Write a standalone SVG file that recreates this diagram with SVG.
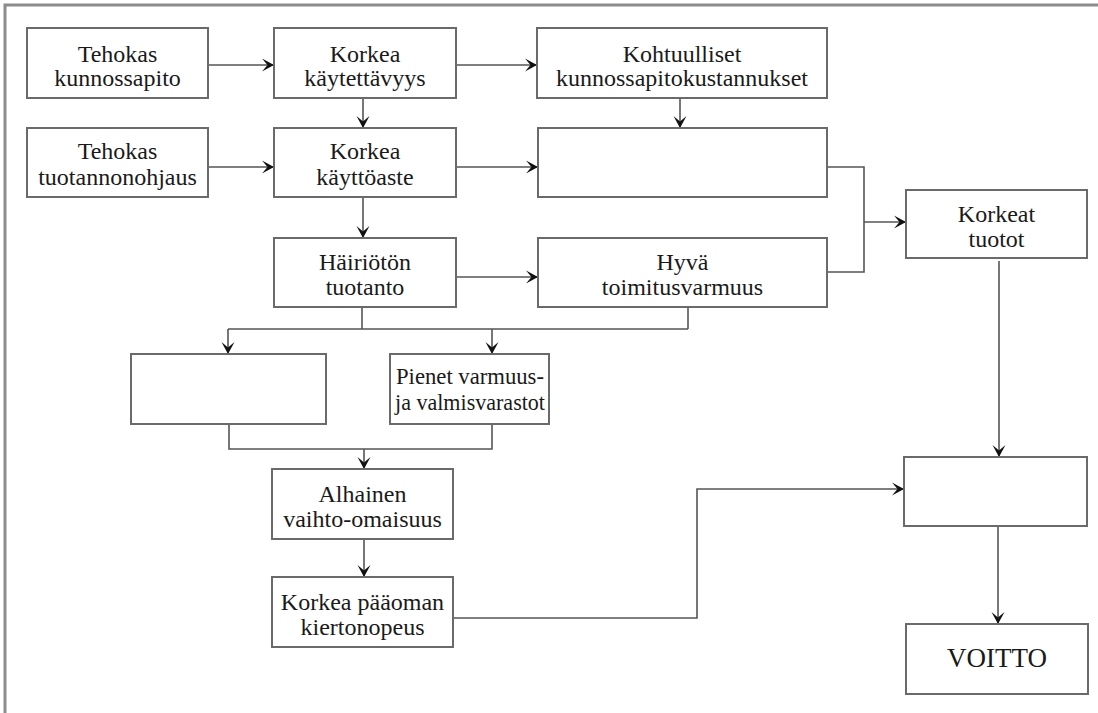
<svg xmlns="http://www.w3.org/2000/svg" width="1098" height="713" viewBox="0 0 1098 713">
  <style>
    .box { fill: #ffffff; stroke: #6a6a6a; stroke-width: 2; }
    .lbl { font-family: "Liberation Serif", "Times New Roman", serif; font-size: 24px; fill: #1a1a1a; text-anchor: middle; }
    .big { font-size: 27px; }
    .wire { fill: none; stroke: #555555; stroke-width: 1.6; }
    .arr { marker-end: url(#head); }
    .frame { fill: none; stroke: #8c8c8c; stroke-width: 3; }
  </style>
  <defs>
    <marker id="head" markerUnits="userSpaceOnUse" markerWidth="14" markerHeight="16" refX="12" refY="7" orient="auto">
      <path d="M12,7 L0,0.5 L5.5,7 L0,13.5 Z" fill="#111111"/>
    </marker>
  </defs>

  <rect width="1098" height="713" fill="#ffffff"/>
  <!-- page frame -->
  <path class="frame" d="M5,713 L5,5 L1098,5"/>

  <!-- connectors -->
  <g id="connectors">
    <path class="wire arr" d="M208,65 L274,65"/>
    <path class="wire arr" d="M456,65 L537,65"/>
    <path class="wire arr" d="M363,98 L363,128"/>
    <path class="wire arr" d="M680,98 L680,128"/>
    <path class="wire arr" d="M208,167 L274,167"/>
    <path class="wire arr" d="M456,167 L538,167"/>
    <path class="wire arr" d="M363,197 L363,238"/>
    <path class="wire arr" d="M456,277 L538,277"/>
    <!-- merge into Korkeat tuotot -->
    <path class="wire" d="M827,167 L864,167 L864,272 L827,272"/>
    <path class="wire arr" d="M864,222 L906,222"/>
    <!-- split below production -->
    <path class="wire" d="M362,307 L362,329"/>
    <path class="wire" d="M688,307 L688,329"/>
    <path class="wire" d="M228,329 L688,329"/>
    <path class="wire arr" d="M228,329 L228,354"/>
    <path class="wire arr" d="M492,329 L492,354"/>
    <!-- merge into Alhainen vaihto-omaisuus -->
    <path class="wire" d="M229,424 L229,449 L492,449 L492,424"/>
    <path class="wire arr" d="M364,449 L364,469"/>
    <path class="wire arr" d="M364,539 L364,577"/>
    <path class="wire arr" d="M453,618 L697,618 L697,489 L904,489"/>
    <path class="wire arr" d="M999,261 L999,457"/>
    <path class="wire arr" d="M998,526 L998,624"/>
  </g>

  <g id="tehokas-kunnossapito">
    <rect class="box" x="27" y="28" width="181" height="70"/>
    <text class="lbl" x="117.5" y="62">Tehokas</text>
    <text class="lbl" x="117.5" y="86">kunnossapito</text>
  </g>
  <g id="korkea-kaytettavyys">
    <rect class="box" x="274" y="28" width="182" height="70"/>
    <text class="lbl" x="365" y="62">Korkea</text>
    <text class="lbl" x="365" y="86">käytettävyys</text>
  </g>
  <g id="kohtuulliset-kustannukset">
    <rect class="box" x="537" y="28" width="290" height="70"/>
    <text class="lbl" x="682" y="62">Kohtuulliset</text>
    <text class="lbl" x="682" y="86">kunnossapitokustannukset</text>
  </g>
  <g id="tehokas-tuotannonohjaus">
    <rect class="box" x="27" y="128" width="181" height="69"/>
    <text class="lbl" x="117.5" y="159">Tehokas</text>
    <text class="lbl" x="117.5" y="185">tuotannonohjaus</text>
  </g>
  <g id="korkea-kayttoaste">
    <rect class="box" x="274" y="128" width="182" height="69"/>
    <text class="lbl" x="365" y="159">Korkea</text>
    <text class="lbl" x="365" y="185">käyttöaste</text>
  </g>
  <g id="tyhja-1">
    <rect class="box" x="538" y="128" width="289" height="69"/>
  </g>
  <g id="hairioton-tuotanto">
    <rect class="box" x="274" y="238" width="182" height="69"/>
    <text class="lbl" x="365" y="270">Häiriötön</text>
    <text class="lbl" x="365" y="295">tuotanto</text>
  </g>
  <g id="hyva-toimitusvarmuus">
    <rect class="box" x="538" y="238" width="289" height="69"/>
    <text class="lbl" x="682.5" y="270">Hyvä</text>
    <text class="lbl" x="682.5" y="295">toimitusvarmuus</text>
  </g>
  <g id="korkeat-tuotot">
    <rect class="box" x="906" y="190" width="181" height="68"/>
    <text class="lbl" x="996.5" y="222">Korkeat</text>
    <text class="lbl" x="996.5" y="247">tuotot</text>
  </g>
  <g id="tyhja-2">
    <rect class="box" x="131" y="354" width="195" height="70"/>
  </g>
  <g id="pienet-varastot">
    <rect class="box" x="390" y="354" width="159" height="70"/>
    <text class="lbl" x="470" y="384" textLength="148" lengthAdjust="spacingAndGlyphs">Pienet varmuus-</text>
    <text class="lbl" x="470" y="410" textLength="150" lengthAdjust="spacingAndGlyphs">ja valmisvarastot</text>
  </g>
  <g id="alhainen-vaihto-omaisuus">
    <rect class="box" x="272" y="469" width="181" height="70"/>
    <text class="lbl" x="362.5" y="502">Alhainen</text>
    <text class="lbl" x="362.5" y="527">vaihto-omaisuus</text>
  </g>
  <g id="paaoman-kiertonopeus">
    <rect class="box" x="272" y="577" width="181" height="70"/>
    <text class="lbl" x="362.5" y="610">Korkea pääoman</text>
    <text class="lbl" x="362.5" y="635">kiertonopeus</text>
  </g>
  <g id="tyhja-3">
    <rect class="box" x="904" y="457" width="183" height="69"/>
  </g>
  <g id="voitto">
    <rect class="box" x="906" y="624" width="182" height="70"/>
    <text class="lbl big" x="997" y="667">VOITTO</text>
  </g>
</svg>
